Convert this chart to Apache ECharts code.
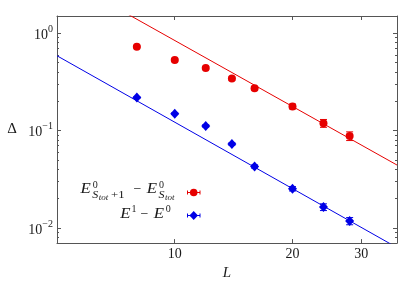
<!DOCTYPE html>
<html>
<head>
<meta charset="utf-8">
<script src="https://cdn.jsdelivr.net/npm/echarts@6/dist/echarts.min.js"></script>
<style>
  html, body { margin: 0; padding: 0; background: #fff; }
  #chart { width: 409px; height: 286px; }
</style>
</head>
<body>
<div id="chart"></div>
<script>
// ---- data ----
const sizesL   = [8, 10, 12, 14, 16, 20, 24, 28];
const gapSpin  = [0.726, 0.531, 0.439, 0.342, 0.272, 0.177, 0.119, 0.088];   // E^0_{Stot+1} - E^0_{Stot}
const errSpin  = [0.012, 0.010, 0.010, 0.012, 0.012, 0.010, 0.011, 0.009];
const gapExc   = [0.218, 0.149, 0.1116, 0.0728, 0.0428, 0.0253, 0.0164, 0.0118]; // E^1 - E^0
const errExc   = [0.004, 0.003, 0.003, 0.002, 0.0016, 0.0013, 0.0013, 0.0010];
const fitL     = [5, 37];
const fitSpin  = [4.0, 0.0443];
const fitExc   = [0.586, 0.0063];
const xTicks   = [10, 20, 30];
const yTicks   = [0.01, 0.1, 1];
const yMinor   = [0.008, 0.009, 0.02, 0.03, 0.04, 0.05, 0.06, 0.07, 0.08, 0.09,
                  0.2, 0.3, 0.4, 0.5, 0.6, 0.7, 0.8, 0.9];
const xRange   = [5, 37];
const yRange   = [0.007, 1.5];

const RED = '#e60000', BLUE = '#0000e6', FRAME = '#555', TXT = '#1a1a1a';
const SERIF = '"Liberation Serif", "DejaVu Serif", serif';
const lg = Math.log10;

const chart = echarts.init(document.getElementById('chart'), null, { renderer: 'canvas' });

function pts(xs, ys) { return xs.map((x, i) => [lg(x), lg(ys[i])]); }
function errs(xs, ys, es) { return xs.map((x, i) => [lg(x), lg(ys[i] - es[i]), lg(ys[i] + es[i])]); }

function errRender(color) {
  return function (params, api) {
    const x = api.value(0), lo = api.value(1), hi = api.value(2);
    const p1 = api.coord([x, lo]), p2 = api.coord([x, hi]);
    const hw = 3.5;
    const st = { stroke: color, lineWidth: 1 };
    return { type: 'group', children: [
      { type: 'line', shape: { x1: p1[0], y1: p1[1], x2: p2[0], y2: p2[1] }, style: st },
      { type: 'line', shape: { x1: p1[0] - hw, y1: p1[1], x2: p1[0] + hw, y2: p1[1] }, style: st },
      { type: 'line', shape: { x1: p2[0] - hw, y1: p2[1], x2: p2[0] + hw, y2: p2[1] }, style: st }
    ]};
  };
}

const xMin = lg(xRange[0]), xMax = lg(xRange[1]);
const yMin = lg(yRange[0]), yMax = lg(yRange[1]);

function xAxisDef(pos, withLabels) {
  return {
    type: 'value', position: pos, min: xMin, max: xMax,
    axisLine: { show: true, onZero: false, lineStyle: { color: FRAME, width: 1 } },
    axisTick: { show: true, inside: true, length: 4, customValues: xTicks.map(lg), lineStyle: { color: FRAME } },
    axisLabel: {
      show: withLabels, customValues: xTicks.map(lg), margin: 4,
      formatter: v => '{b|' + Math.round(Math.pow(10, v)) + '}',
      rich: { b: { fontFamily: SERIF, fontSize: 14, color: TXT } }
    },
    splitLine: { show: false },
    name: withLabels ? 'L' : '', nameLocation: 'middle', nameGap: 17,
    nameTextStyle: { fontFamily: SERIF, fontStyle: 'italic', fontSize: 15, color: TXT }
  };
}
function yAxisDef(pos, major, withLabels, withLine) {
  const vals = (major ? yTicks : yMinor).map(lg);
  return {
    type: 'value', position: pos, min: yMin, max: yMax,
    axisLine: { show: withLine, onZero: false, lineStyle: { color: FRAME, width: 1 } },
    axisTick: { show: true, inside: true, length: major ? 4 : 2, customValues: vals, lineStyle: { color: FRAME } },
    axisLabel: {
      show: withLabels, customValues: vals, margin: 4,
      formatter: v => {
        const e = Math.round(v);
        return '{b|10}{s|' + (e < 0 ? '\u2212' + (-e) : String(e)) + '}';
      },
      rich: {
        b: { fontFamily: SERIF, fontSize: 14, color: TXT, lineHeight: 18, verticalAlign: 'bottom' },
        s: { fontFamily: SERIF, fontSize: 10, color: TXT, lineHeight: 10, verticalAlign: 'top' }
      }
    },
    splitLine: { show: false },
    name: withLabels ? '\u0394' : '', nameLocation: 'middle', nameGap: 40, nameRotate: 0,
    nameTextStyle: { fontFamily: SERIF, fontSize: 15, color: TXT }
  };
}

// legend text pieces (positions only)
function t(text, x, y, size, italic, sx) {
  return { type: 'text', x: x, y: y, silent: true, scaleX: sx || 1,
    style: { text: text, fill: TXT, align: 'left', verticalAlign: 'middle',
      font: (italic ? 'italic ' : '') + size + 'px ' + SERIF } };
}
const legendGraphics = [
  t('E', 80.5, 189.5, 14, true, 1.2),
  t('0', 92.8, 185.3, 10, false),
  t('S', 92.3, 195, 11, true, 1.1),
  t('tot', 98.8, 197.5, 9, true),
  t('+1', 111, 195, 11, false, 1.15),
  t('\u2212', 133.5, 189.5, 14, false),
  t('E', 146.8, 189.5, 14, true, 1.2),
  t('0', 159, 185.3, 10, false),
  t('S', 158.5, 195, 11, true, 1.1),
  t('tot', 165, 197.5, 9, true),

  t('E', 120.3, 214, 14, true, 1.2),
  t('1', 131.5, 209.5, 10, false),
  t('\u2212', 140.5, 214, 14, false),
  t('E', 153.8, 214, 14, true, 1.2),
  t('0', 165.8, 209.5, 10, false),

  // legend icons
  { type: 'line', shape: { x1: 187.5, y1: 192.5, x2: 200, y2: 192.5 }, style: { stroke: RED, lineWidth: 1 } },
  { type: 'line', shape: { x1: 187.5, y1: 190.5, x2: 187.5, y2: 194.5 }, style: { stroke: RED, lineWidth: 1 } },
  { type: 'line', shape: { x1: 200, y1: 190.5, x2: 200, y2: 194.5 }, style: { stroke: RED, lineWidth: 1 } },
  { type: 'circle', shape: { cx: 193.7, cy: 192.5, r: 3.8 }, style: { fill: RED } },
  { type: 'line', shape: { x1: 187.5, y1: 215.5, x2: 200, y2: 215.5 }, style: { stroke: BLUE, lineWidth: 1 } },
  { type: 'line', shape: { x1: 187.5, y1: 213.5, x2: 187.5, y2: 217.5 }, style: { stroke: BLUE, lineWidth: 1 } },
  { type: 'line', shape: { x1: 200, y1: 213.5, x2: 200, y2: 217.5 }, style: { stroke: BLUE, lineWidth: 1 } },
  { type: 'polygon', shape: { points: [[193.7, 211], [198, 215.5], [193.7, 220], [189.4, 215.5]] }, style: { fill: BLUE } }
];

const option = {
  animation: false,
  backgroundColor: '#fff',
  grid: { left: 57, right: 12, top: 16, bottom: 35, containLabel: false },
  xAxis: [ xAxisDef('bottom', true), xAxisDef('top', false) ],
  yAxis: [
    yAxisDef('left', true, true, true),
    yAxisDef('left', false, false, false),
    yAxisDef('right', true, false, true),
    yAxisDef('right', false, false, false)
  ],
  graphic: legendGraphics,
  series: [
    { name: 'fitSpin', type: 'line', data: pts(fitL, fitSpin), showSymbol: false, clip: true,
      lineStyle: { color: RED, width: 1 }, itemStyle: { color: RED }, z: 1 },
    { name: 'fitExc', type: 'line', data: pts(fitL, fitExc), showSymbol: false, clip: true,
      lineStyle: { color: BLUE, width: 1 }, itemStyle: { color: BLUE }, z: 1 },
    { name: 'errSpin', type: 'custom', data: errs(sizesL, gapSpin, errSpin), encode: { x: 0, y: [1, 2] },
      renderItem: errRender(RED), z: 2 },
    { name: 'errExc', type: 'custom', data: errs(sizesL, gapExc, errExc), encode: { x: 0, y: [1, 2] },
      renderItem: errRender(BLUE), z: 2 },
    { name: 'spin', type: 'scatter', data: pts(sizesL, gapSpin), symbol: 'circle', symbolSize: 8,
      itemStyle: { color: RED, opacity: 1 }, z: 3 },
    { name: 'exc', type: 'scatter', data: pts(sizesL, gapExc), symbol: 'diamond', symbolSize: [9, 10],
      itemStyle: { color: BLUE, opacity: 1 }, z: 3 }
  ]
};
chart.setOption(option);
</script>
</body>
</html>
